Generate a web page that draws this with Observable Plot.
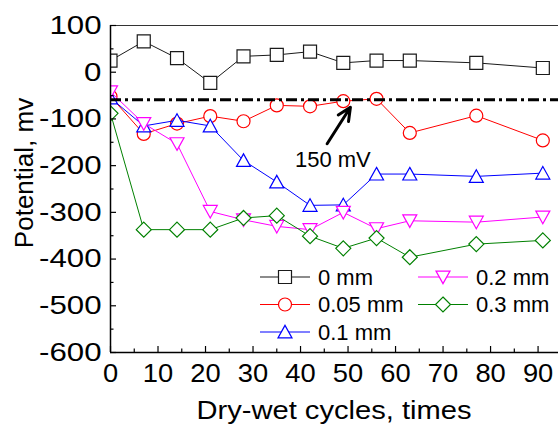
<!DOCTYPE html>
<html>
<head>
<meta charset="utf-8">
<script src="https://cdn.jsdelivr.net/npm/d3@7"></script>
<script src="https://cdn.jsdelivr.net/npm/@observablehq/plot@0.6"></script>
<style>
  html, body { margin: 0; padding: 0; background: white; }
  #chart { width: 558px; height: 428px; }
</style>
</head>
<body>
<div id="chart"></div>
<script>
// ---- data ----
const cycles = [0, 7, 14, 21, 28, 35, 42, 49, 56, 63, 77, 91];
const seriesNames = ["0 mm", "0.05 mm", "0.1 mm", "0.2 mm", "0.3 mm"];
const pot0 = [25, 66, 30, -23, 34, 37, 44, 20, 25, 25, 20, 9];
const pot005 = [-52, -132, -110, -94, -105, -71, -73, -62, -57, -130, -93, -146];
const pot01 = [-55, -115, -103, -115, -189, -235, -285, -284, -218, -218, -223, -216];
const pot02 = [-42, -110, -153, -298, -316, -330, -337, -300, -335, -318, -321, -310];
const pot03 = [-88, -337, -337, -337, -312, -307, -351, -377, -355, -396, -368, -360];
const seriesColors = ["#1a1a1a", "#ff0000", "#0000ff", "#ff00ff", "#008000"];
const xTicks = [0, 10, 20, 30, 40, 50, 60, 70, 80, 90];
const xMinor = [5, 15, 25, 35, 45, 55, 65, 75, 85];
const yTicks = [-600, -500, -400, -300, -200, -100, 0, 100];
const yMinor = [-550, -450, -350, -250, -150, -50, 50];
const refLevel = [-59];
const arrowFrom = [45.6, -153];
const arrowTo = [50.5, -75];
const noteText = ["150 mV"];
const notePos = [46.8, -187];
const xTitle = "Dry-wet cycles, times";
const yTitle = "Potential, mv";

// ---- symbols ----
const rOf = (size) => Math.sqrt(size / Math.PI);
const symSquare = { draw(c, s) { const r = rOf(s); c.moveTo(-r, -r); c.lineTo(r, -r); c.lineTo(r, r); c.lineTo(-r, r); c.closePath(); } };
const symCircle = { draw(c, s) { const r = rOf(s); c.moveTo(r, 0); c.arc(0, 0, r, 0, 2 * Math.PI); } };
const symTriUp = { draw(c, s) { const r = rOf(s); c.moveTo(0, -0.95 * r); c.lineTo(r, 0.85 * r); c.lineTo(-r, 0.85 * r); c.closePath(); } };
const symTriDown = { draw(c, s) { const r = rOf(s); c.moveTo(0, 0.95 * r); c.lineTo(r, -0.85 * r); c.lineTo(-r, -0.85 * r); c.closePath(); } };
const symDiamond = { draw(c, s) { const r = rOf(s); c.moveTo(0, -r); c.lineTo(r, 0); c.lineTo(0, r); c.lineTo(-r, 0); c.closePath(); } };
const seriesSymbols = [symSquare, symCircle, symTriUp, symTriDown, symDiamond];
const seriesR = [6.5, 6.5, 7, 7, 7.5];

const seriesValues = [pot0, pot005, pot01, pot02, pot03];
const seriesData = seriesValues.map((vals, i) =>
  cycles.map((c, j) => ({ series: seriesNames[i], x: c, y: vals[j] }))
);

const W = 558, H = 428;
const mL = 110, mR = 0, mT = 25, mB = 76;
const frameW = W - mL - mR, frameH = H - mT - mB;
const xDomain = [0, 94.3];
const yDomain = [-600, 100];

const seriesMarks = seriesData.flatMap((d, i) => [
  Plot.line(d, { x: "x", y: "y", stroke: seriesColors[i], strokeWidth: 1, clip: true }),
  Plot.dot(d, { x: "x", y: "y", symbol: seriesSymbols[i], r: seriesR[i], stroke: seriesColors[i], fill: "white", strokeWidth: 1.2, clip: true })
]);

// legend (drawn inside the frame) + axis titles
const legendCols = [150, 308];
const legendRows = [252, 279.5, 307];
function legendMark(index, scales, values, dim) {
  const g = d3.create("svg:g");
  seriesNames.forEach((name, i) => {
    const col = i < 3 ? 0 : 1;
    const row = i < 3 ? i : i - 3;
    const x0 = dim.marginLeft + legendCols[col];
    const y0 = dim.marginTop + legendRows[row];
    g.append("line").attr("x1", x0).attr("x2", x0 + 50).attr("y1", y0).attr("y2", y0)
      .attr("stroke", seriesColors[i]).attr("stroke-width", 1.2);
    const p = d3.path();
    seriesSymbols[i].draw(p, seriesR[i] * seriesR[i] * Math.PI);
    g.append("path").attr("d", p.toString()).attr("transform", `translate(${x0 + 25},${y0})`)
      .attr("fill", "white").attr("stroke", seriesColors[i]).attr("stroke-width", 1.2);
    g.append("text").attr("x", x0 + 58).attr("y", y0).attr("dy", "0.36em")
      .attr("text-anchor", "start").attr("font-size", 22).attr("fill", "black").text(name);
  });
  return g.node();
}
function titlesMark(index, scales, values, dim) {
  const g = d3.create("svg:g");
  const cx = dim.marginLeft + (dim.width - dim.marginLeft - dim.marginRight) / 2;
  g.append("text").attr("x", cx).attr("y", dim.height - 9).attr("text-anchor", "middle")
    .attr("font-size", 26).attr("class", "xtitle").attr("fill", "black").text(xTitle);
  g.append("text").attr("transform", `translate(${dim.marginLeft - 86},${dim.marginTop + 148}) rotate(-90)`)
    .attr("text-anchor", "middle").attr("dy", "0.36em").attr("font-size", 26)
    .attr("class", "ytitle").attr("fill", "black").text(yTitle);
  return g.node();
}

const chart = Plot.plot({
  width: W, height: H,
  marginLeft: mL, marginRight: mR, marginTop: mT, marginBottom: mB,
  style: { fontFamily: "'Liberation Sans', Arial, sans-serif", background: "white", color: "black", overflow: "visible" },
  x: { domain: xDomain, label: null },
  y: { domain: yDomain, label: null },
  marks: [
    ...seriesMarks,
    Plot.ruleY(refLevel, { stroke: "black", strokeWidth: 3, strokeDasharray: "11,4,3,4" }),
    Plot.arrow([{ x1: arrowFrom[0], y1: arrowFrom[1], x2: arrowTo[0], y2: arrowTo[1] }],
      { x1: "x1", y1: "y1", x2: "x2", y2: "y2", stroke: "black", strokeWidth: 3, headLength: 12, headAngle: 50 }),
    Plot.text(noteText, { x: () => notePos[0], y: () => notePos[1], fontSize: 22, fill: "black" }),
    // frame lines
    Plot.ruleY([yDomain[1]], { stroke: "#333", strokeWidth: 1 }),
    Plot.ruleY([yDomain[0]], { stroke: "black", strokeWidth: 1.5 }),
    Plot.ruleX([xDomain[0]], { stroke: "black", strokeWidth: 1.5 }),
    // inward ticks
    Plot.tickX(xTicks, { x: (d) => d, insetTop: frameH - 6, stroke: "black", strokeWidth: 1.2 }),
    Plot.tickX(xMinor, { x: (d) => d, insetTop: frameH - 3.5, stroke: "black", strokeWidth: 1.2 }),
    Plot.tickY(yTicks, { y: (d) => d, insetRight: frameW - 6, stroke: "black", strokeWidth: 1.2 }),
    Plot.tickY(yMinor, { y: (d) => d, insetRight: frameW - 3.5, stroke: "black", strokeWidth: 1.2 }),
    // tick labels
    Plot.axisX({ ticks: xTicks, tickSize: 0, tickPadding: 11, fontSize: 26, tickFormat: (d) => String(d), label: null }),
    Plot.axisY({ ticks: yTicks, tickSize: 0, tickPadding: 9, fontSize: 26, tickFormat: (d) => String(d), label: null }),
    titlesMark,
    legendMark
  ]
});
document.getElementById("chart").appendChild(chart);

// the reference draws some labels a little wider than plain glyphs
function widen(t, k) {
  const len = t.getComputedTextLength();
  if (len > 0) {
    t.setAttribute("textLength", (len * k).toFixed(1));
    t.setAttribute("lengthAdjust", "spacingAndGlyphs");
  }
}
chart.querySelectorAll('g[aria-label="y-axis tick label"] text').forEach((t) => widen(t, 1.2));
chart.querySelectorAll('g[aria-label="x-axis tick label"] text').forEach((t) => widen(t, 1.05));
chart.querySelectorAll("text.xtitle").forEach((t) => widen(t, 1.12));
</script>
</body>
</html>
